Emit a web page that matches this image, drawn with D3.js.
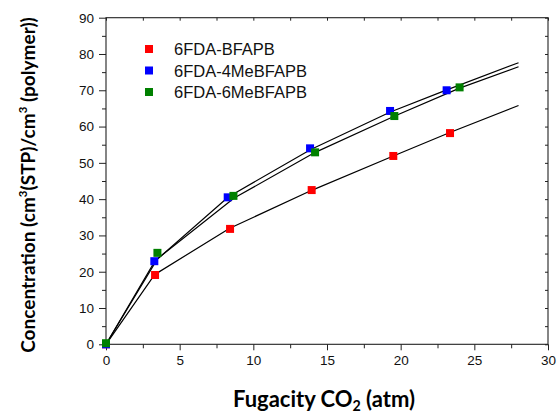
<!DOCTYPE html>
<html>
<head>
<meta charset="utf-8">
<script src="https://cdn.jsdelivr.net/npm/d3@7"></script>
<style>
  html, body { margin: 0; padding: 0; background: #fff; }
  svg { display: block; }
</style>
</head>
<body>
<svg id="chart" width="558" height="415"></svg>
<script>
// Measured CO2 sorption points (fugacity in atm, concentration in cm3(STP)/cm3)
const seriesNames = ["6FDA-BFAPB", "6FDA-4MeBFAPB", "6FDA-6MeBFAPB"];
const seriesColors = ["#ff0000", "#0000ff", "#008000"];

const bfapbX = [0, 3.33, 8.42, 13.96, 19.5, 23.35];
const bfapbY = [0, 19.1, 31.8, 42.5, 51.9, 58.2];
const me4X = [0, 3.28, 8.26, 13.85, 19.28, 23.12];
const me4Y = [0, 22.9, 40.5, 54.0, 64.3, 70.0];
const me6X = [0, 3.49, 8.65, 14.19, 19.57, 24.0];
const me6Y = [0.3, 25.2, 40.9, 52.9, 62.9, 70.8];

// Dual-mode fit values, evaluated at the measured fugacities and extended to 28 atm
const fitBfapbX = [0, 3.3, 8.4, 14, 19.5, 23.3, 28];
const fitBfapbY = [0, 19.2, 32.0, 42.5, 51.9, 58.3, 65.8];
const fitMe4X = [0, 3.3, 8.3, 13.9, 19.3, 23.0, 28];
const fitMe4Y = [0, 22.8, 40.6, 53.7, 64.0, 69.9, 77.6];
const fitMe6X = [0, 3.5, 8.7, 14.2, 19.6, 24.0, 28];
const fitMe6Y = [0, 23.6, 40.3, 52.9, 62.9, 70.6, 76.5];

const xTicks = [0, 5, 10, 15, 20, 25, 30];
const yTicks = [0, 10, 20, 30, 40, 50, 60, 70, 80, 90];

const svg = d3.select("#chart");
const plotLeft = 106, plotRight = 548, plotTop = 17.7, plotBottom = 344.3;

const x = d3.scaleLinear().domain([0, 30]).range([plotLeft, plotRight]);
const y = d3.scaleLinear().domain([0, 90]).range([plotBottom, plotTop]);

const axisColor = "#222";
const tickFont = "'Liberation Sans', Arial, sans-serif";

function styleAxis(g) {
  g.select(".domain").remove();
  g.selectAll("line").attr("stroke", axisColor).attr("stroke-width", 1);
  g.selectAll("text").attr("fill", "#111").style("font-family", tickFont).style("font-size", "13.5px");
}

// frame
svg.append("rect")
  .attr("x", plotLeft).attr("y", plotTop)
  .attr("width", plotRight - plotLeft).attr("height", plotBottom - plotTop)
  .attr("fill", "none").attr("stroke", axisColor).attr("stroke-width", 1.1);

const minorX = d3.range(2.5, 30, 5);
const minorY = d3.range(5, 90, 10);

// bottom axis: outward ticks with labels
svg.append("g").attr("transform", `translate(0,${plotBottom})`)
  .call(d3.axisBottom(x).tickValues(xTicks).tickSize(6).tickPadding(5).tickFormat(d3.format("d")))
  .call(styleAxis);
svg.append("g").attr("transform", `translate(0,${plotBottom})`)
  .call(d3.axisBottom(x).tickValues(minorX).tickSize(4).tickFormat(""))
  .call(styleAxis);

// left axis: outward ticks with labels
svg.append("g").attr("transform", `translate(${plotLeft},0)`)
  .call(d3.axisLeft(y).tickValues(yTicks).tickSize(7).tickPadding(5).tickFormat(d3.format("d")))
  .call(styleAxis);
svg.append("g").attr("transform", `translate(${plotLeft},0)`)
  .call(d3.axisLeft(y).tickValues(minorY).tickSize(4).tickFormat(""))
  .call(styleAxis);

// top and right axes: inward ticks, no labels
svg.append("g").attr("transform", `translate(0,${plotTop})`)
  .call(d3.axisBottom(x).tickValues(d3.range(0, 30.01, 2.5)).tickSize(3).tickFormat(""))
  .call(styleAxis);
svg.append("g").attr("transform", `translate(${plotRight},0)`)
  .call(d3.axisLeft(y).tickValues(d3.range(0, 90.01, 5)).tickSize(3).tickFormat(""))
  .call(styleAxis);

// fit lines
const line = d3.line().x(d => x(d[0])).y(d => y(d[1])).curve(d3.curveLinear);
[[fitBfapbX, fitBfapbY], [fitMe4X, fitMe4Y], [fitMe6X, fitMe6Y]].forEach(([fx, fy]) => {
  svg.append("path")
    .datum(fx.map((v, i) => [v, fy[i]]))
    .attr("d", line)
    .attr("fill", "none")
    .attr("stroke", "#000")
    .attr("stroke-width", 1.2)
    .attr("stroke-linejoin", "round");
});

// data markers
const markerSize = 8;
const pointSets = [[bfapbX, bfapbY], [me4X, me4Y], [me6X, me6Y]];
pointSets.forEach(([xs, ys], s) => {
  svg.append("g").selectAll("rect")
    .data(xs.map((px, i) => [px, ys[i]]))
    .join("rect")
    .attr("x", d => x(d[0]) - markerSize / 2)
    .attr("y", d => y(d[1]) - markerSize / 2)
    .attr("width", markerSize).attr("height", markerSize)
    .attr("fill", seriesColors[s]);
});

// legend
const legend = svg.append("g");
seriesNames.forEach((name, i) => {
  const cy = 49 + i * 21.5;
  legend.append("rect")
    .attr("x", 149 - markerSize / 2).attr("y", cy - markerSize / 2)
    .attr("width", markerSize).attr("height", markerSize)
    .attr("fill", seriesColors[i]);
  legend.append("text")
    .attr("x", 174).attr("y", cy + 6)
    .attr("fill", "#111")
    .style("font-family", tickFont).style("font-size", "16.5px")
    .text(name);
});

// axis titles
const titleFont = "Lato, 'Open Sans', sans-serif";

function fitWidth(textSel, target, base) {
  const len = textSel.node().getComputedTextLength();
  textSel.style("font-size", (base * target / len).toFixed(2) + "px");
}

const xTitle = svg.append("text")
  .attr("x", 324).attr("y", 407)
  .attr("text-anchor", "middle")
  .style("font-family", titleFont).style("font-weight", "bold").style("font-size", "16px")
  .attr("fill", "#000");
xTitle.append("tspan").text("Fugacity CO");
xTitle.append("tspan").text("2").attr("dy", 4).style("font-size", "0.65em");
xTitle.append("tspan").text(" (atm)").attr("dy", -4);
fitWidth(xTitle, 182, 16);

const yTitle = svg.append("text")
  .attr("transform", "translate(35,185) rotate(-90)")
  .attr("text-anchor", "middle")
  .style("font-family", titleFont).style("font-weight", "bold").style("font-size", "16px")
  .attr("fill", "#000");
yTitle.append("tspan").text("Concentration (cm");
yTitle.append("tspan").text("3").attr("dy", -8).style("font-size", "0.6em");
yTitle.append("tspan").text("(STP)/cm").attr("dy", 8);
yTitle.append("tspan").text("3").attr("dy", -8).style("font-size", "0.6em");
yTitle.append("tspan").text(" (polymer))").attr("dy", 8);
fitWidth(yTitle, 336, 16);
</script>
</body>
</html>
